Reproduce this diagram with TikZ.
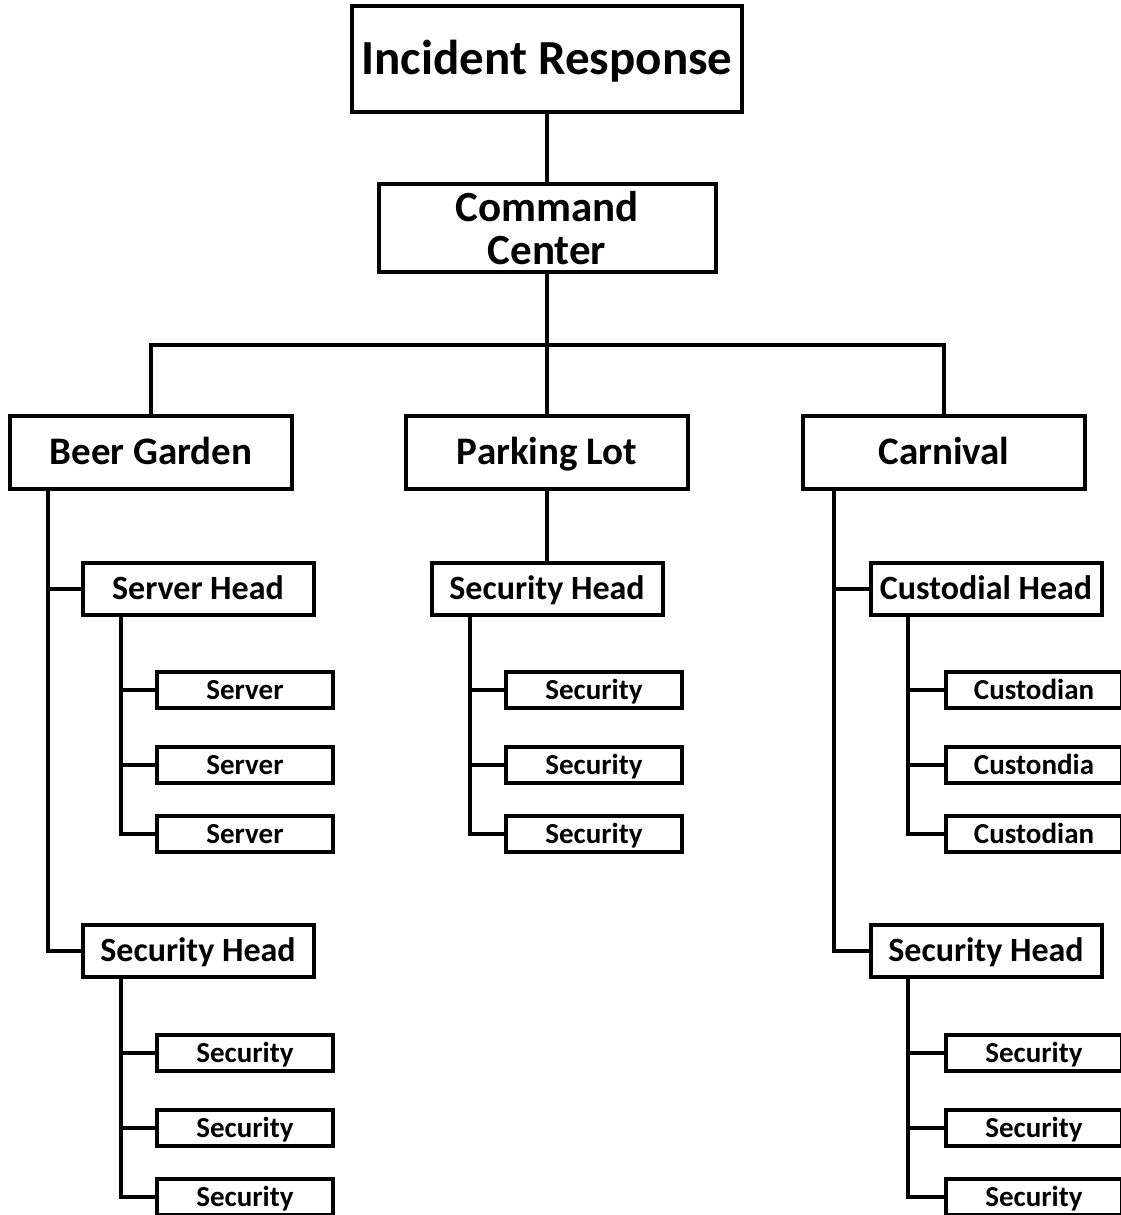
\documentclass[tikz,border=0pt]{standalone}
\usepackage{fontspec}
\setmainfont{Carlito}
\usepackage{tikz}

\tikzset{
  box/.style={draw, line width=4pt, inner sep=0pt, align=center},
  topbox/.style={box, minimum width=390pt, minimum height=105pt, text height=31pt, text depth=0pt, font=\bfseries\fontsize{49}{52}\selectfont},
  ccbox/.style={box, minimum width=337pt, minimum height=88pt, font=\bfseries\fontsize{43}{43}\selectfont},
  areabox/.style={box, minimum width=282pt, minimum height=73pt, text height=24.5pt, text depth=0pt, font=\bfseries\fontsize{39}{40}\selectfont},
  headbox/.style={box, minimum width=231pt, minimum height=52pt, text height=21.5pt, text depth=0pt, font=\bfseries\fontsize{34}{36}\selectfont},
  staffbox/.style={box, minimum width=176pt, minimum height=36pt, text height=18.3pt, text depth=0pt, font=\bfseries\fontsize{29}{30}\selectfont},
  wire/.style={line width=4pt}
}

\begin{document}
\begin{tikzpicture}[x=1pt, y=-1pt]

\useasboundingbox (0, 0) rectangle (1120, 1215);

\node[topbox] (ir) at (547, 59) {Incident Response};
\node[ccbox] (cc) at (547, 228) {Command\\Center};

\node[areabox] (bg) at (151, 452) {Beer Garden};
\node[areabox] (pl) at (547, 452) {Parking Lot};
\node[areabox] (cv) at (944, 452) {Carnival};

\node[headbox] (bgsrvhead) at (198, 589) {Server Head};
\node[headbox] (bgsechead) at (198, 951) {Security Head};
\node[headbox] (plsechead) at (547, 589) {Security Head};
\node[headbox] (cvcushead) at (986, 589) {Custodial Head};
\node[headbox] (cvsechead) at (986, 951) {Security Head};

\node[staffbox] (bgsrv1) at (245, 690) {Server};
\node[staffbox] (bgsrv2) at (245, 765) {Server};
\node[staffbox] (bgsrv3) at (245, 834) {Server};

\node[staffbox] (bgsec1) at (245, 1053) {Security};
\node[staffbox] (bgsec2) at (245, 1128) {Security};
\node[staffbox] (bgsec3) at (245, 1197) {Security};

\node[staffbox] (plsec1) at (594, 690) {Security};
\node[staffbox] (plsec2) at (594, 765) {Security};
\node[staffbox] (plsec3) at (594, 834) {Security};

\node[staffbox] (cvcus1) at (1034, 690) {Custodian};
\node[staffbox] (cvcus2) at (1034, 765) {Custondia};
\node[staffbox] (cvcus3) at (1034, 834) {Custodian};

\node[staffbox] (cvsec1) at (1034, 1053) {Security};
\node[staffbox] (cvsec2) at (1034, 1128) {Security};
\node[staffbox] (cvsec3) at (1034, 1197) {Security};

\coordinate (bus) at (547, 345);

\draw[wire] (ir) -- (cc);
\draw[wire] (cc) -- (bus);
\draw[wire] (bus) -| (bg);
\draw[wire] (bus) -| (cv);
\draw[wire] (bus) -- (pl);
\draw[wire] (pl) -- (plsechead);

\draw[wire] ([xshift=-103pt]bg.south) |- (bgsrvhead.west);
\draw[wire] ([xshift=-103pt]bg.south) |- (bgsechead.west);
\draw[wire] ([xshift=-110pt]cv.south) |- (cvcushead.west);
\draw[wire] ([xshift=-110pt]cv.south) |- (cvsechead.west);

\draw[wire] ([xshift=-77pt]bgsrvhead.south) |- (bgsrv1.west);
\draw[wire] ([xshift=-77pt]bgsrvhead.south) |- (bgsrv2.west);
\draw[wire] ([xshift=-77pt]bgsrvhead.south) |- (bgsrv3.west);

\draw[wire] ([xshift=-77pt]bgsechead.south) |- (bgsec1.west);
\draw[wire] ([xshift=-77pt]bgsechead.south) |- (bgsec2.west);
\draw[wire] ([xshift=-77pt]bgsechead.south) |- (bgsec3.west);

\draw[wire] ([xshift=-77pt]plsechead.south) |- (plsec1.west);
\draw[wire] ([xshift=-77pt]plsechead.south) |- (plsec2.west);
\draw[wire] ([xshift=-77pt]plsechead.south) |- (plsec3.west);

\draw[wire] ([xshift=-78pt]cvcushead.south) |- (cvcus1.west);
\draw[wire] ([xshift=-78pt]cvcushead.south) |- (cvcus2.west);
\draw[wire] ([xshift=-78pt]cvcushead.south) |- (cvcus3.west);

\draw[wire] ([xshift=-78pt]cvsechead.south) |- (cvsec1.west);
\draw[wire] ([xshift=-78pt]cvsechead.south) |- (cvsec2.west);
\draw[wire] ([xshift=-78pt]cvsechead.south) |- (cvsec3.west);

\end{tikzpicture}
\end{document}
